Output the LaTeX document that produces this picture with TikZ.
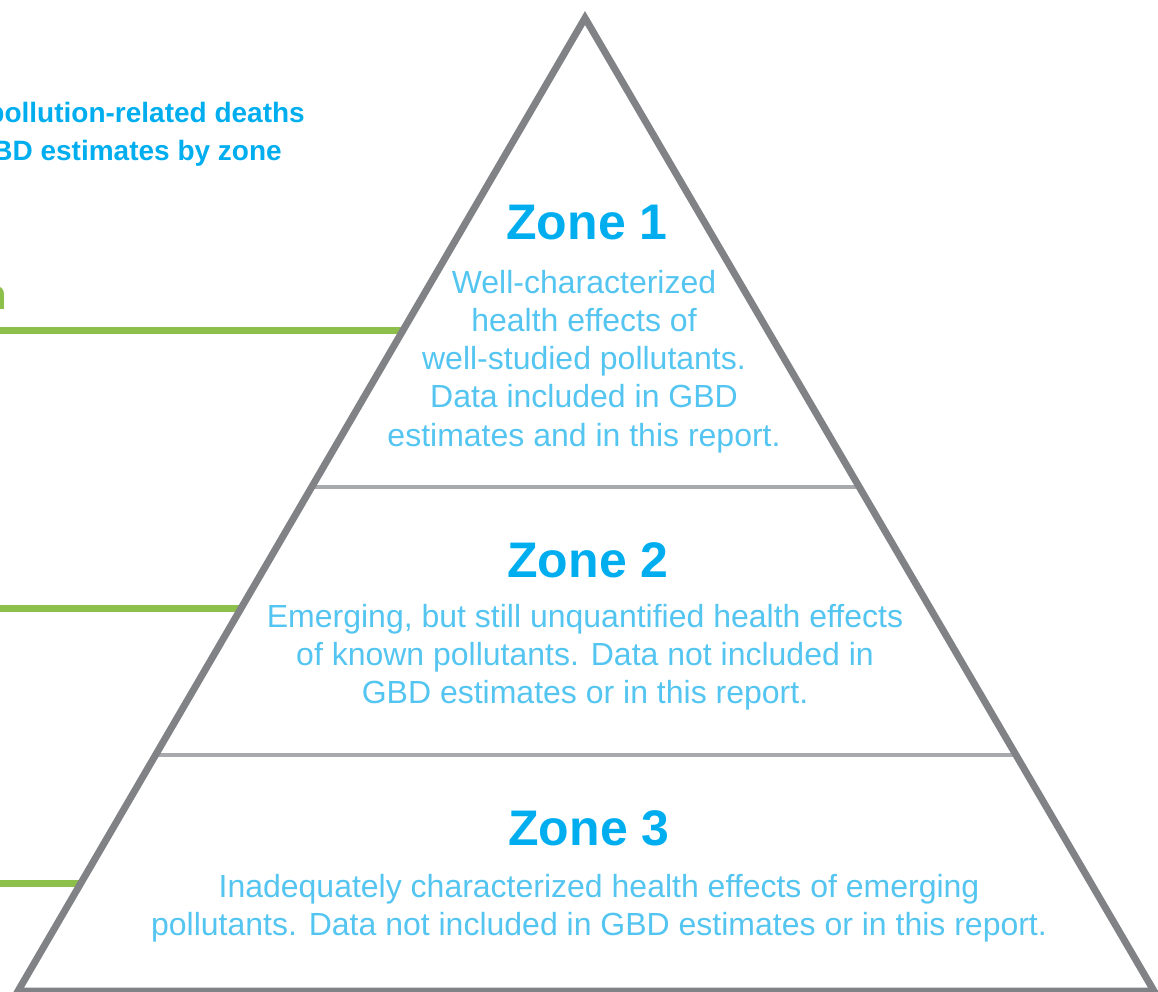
\documentclass[tikz,border=0pt]{standalone}
\usepackage{fontspec}
\setmainfont{Liberation Sans}
\usepackage{tikz}
\usetikzlibrary{calc}
\definecolor{zoneblue}{RGB}{0,174,239}
\definecolor{textblue}{RGB}{84,197,240}
\definecolor{linkgreen}{RGB}{141,192,75}
\definecolor{edgegray}{RGB}{128,130,133}
\definecolor{bandgray}{RGB}{167,169,172}
\begin{document}
\begin{tikzpicture}[x=1pt,y=-1pt,
            zone/.style={font=\fontsize{50}{60}\selectfont\bfseries,text=zoneblue,inner sep=0pt,anchor=base},
            desc/.style={font=\fontsize{32}{38}\selectfont,text=textblue,inner sep=0pt,anchor=base},
            title/.style={font=\fontsize{28}{34}\selectfont\bfseries,text=zoneblue,inner sep=0pt,anchor=base east},
            link/.style={draw=linkgreen,line width=7pt},
            edge/.style={draw=edgegray,line width=7pt,line join=miter},
            band/.style={draw=bandgray,line width=4pt}]
            \useasboundingbox (0,0) rectangle (1158,991);
            \clip (0,0) rectangle (1158,991);
            \coordinate (o) at (0,0);
            \coordinate (apex) at (585,18);
            \coordinate (bl) at (18,991);
            \coordinate (br) at (1154,991);
            \node[title] (t1) at (305,122) {pollution-related deaths};
            \node[title] (t2) at (282,160) {GBD estimates by zone};
            \node[font=\fontsize{42}{50}\selectfont\bfseries,text=linkgreen,inner sep=0pt,anchor=base east] (g0) at (7,309) {n};
            \foreach \t/\n in {0.321/1,0.607/2,0.890/3} {
                \coordinate (g\n) at ($(apex)!\t!(bl)$);
                \draw[link] (g\n) -- (g\n -| o);
            }
            \foreach \t/\n in {0.482/1,0.757/2} {
                \coordinate (b\n l) at ($(apex)!\t!(bl)$);
                \coordinate (b\n r) at ($(apex)!\t!(br)$);
                \draw[band] (b\n l) -- (b\n r);
            }
            \draw[edge] (apex) -- (bl) -- (br) -- cycle;
            \node[zone] (z1) at (587,239) {Zone 1};
            \foreach \l [count=\i] in {Well-characterized,health effects of,well-studied pollutants.,Data included in GBD,estimates and in this report.}
                \node[desc] (d1-\i) at (584,{293+38.3*(\i-1)}) {\l};
            \node[zone] (z2) at (588,577) {Zone 2};
            \foreach \l [count=\i] in {{Emerging, but still unquantified health effects},of known pollutants. Data not included in,GBD estimates or in this report.}
                \node[desc] (d2-\i) at (585,{627+38.3*(\i-1)}) {\l};
            \node[zone] (z3) at (589,845) {Zone 3};
            \foreach \l [count=\i] in {Inadequately characterized health effects of emerging,pollutants. Data not included in GBD estimates or in this report.}
                \node[desc] (d3-\i) at (599,{897+38.3*(\i-1)}) {\l};
\end{tikzpicture}
\end{document}
